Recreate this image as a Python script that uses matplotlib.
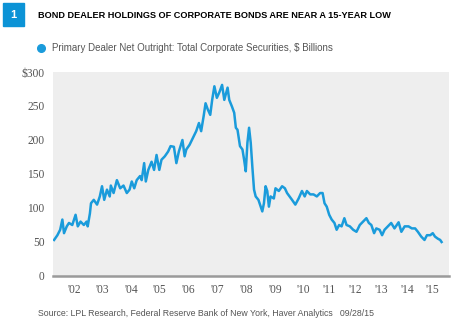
import matplotlib
matplotlib.use("Agg")
import matplotlib.pyplot as plt
from matplotlib.patches import Rectangle

# Data (decimal year, $ billions)
years = [
    2001.66, 2001.78, 2001.88, 2001.96, 2002.02, 2002.12, 2002.20, 2002.32, 2002.44, 2002.52,
    2002.62, 2002.74, 2002.84, 2002.88, 2002.96, 2003.00, 2003.10, 2003.22, 2003.32, 2003.40,
    2003.48, 2003.58, 2003.68, 2003.72, 2003.82, 2003.94, 2004.06, 2004.18, 2004.30, 2004.40,
    2004.48, 2004.57, 2004.66, 2004.78, 2004.84, 2004.93, 2004.99, 2005.08, 2005.20, 2005.29,
    2005.38, 2005.48, 2005.56, 2005.68, 2005.80, 2005.89, 2006.01, 2006.10, 2006.19, 2006.32,
    2006.40, 2006.46, 2006.58, 2006.70, 2006.82, 2006.92, 2007.00, 2007.09, 2007.16, 2007.24,
    2007.33, 2007.40, 2007.48, 2007.57, 2007.66, 2007.76, 2007.84, 2007.96, 2008.02, 2008.12,
    2008.20, 2008.26, 2008.32, 2008.41, 2008.50, 2008.56, 2008.62, 2008.68, 2008.74, 2008.80,
    2008.86, 2008.92, 2008.98, 2009.08, 2009.16, 2009.22, 2009.28, 2009.34, 2009.40, 2009.46,
    2009.52, 2009.64, 2009.70, 2009.82, 2009.94, 2010.04, 2010.12, 2010.21, 2010.30, 2010.42,
    2010.54, 2010.66, 2010.76, 2010.84, 2010.96, 2011.08, 2011.20, 2011.32, 2011.41, 2011.48,
    2011.56, 2011.65, 2011.74, 2011.84, 2011.92, 2012.01, 2012.10, 2012.20, 2012.28, 2012.40,
    2012.52, 2012.64, 2012.76, 2012.88, 2013.00, 2013.09, 2013.18, 2013.28, 2013.36, 2013.48,
    2013.57, 2013.66, 2013.78, 2013.90, 2014.02, 2014.17, 2014.27, 2014.39, 2014.53, 2014.65,
    2014.77, 2014.87, 2014.99, 2015.11, 2015.20, 2015.32, 2015.41, 2015.49, 2015.59, 2015.68,
    2015.73,
]
holdings = [
    53, 60, 68, 83, 63, 73, 78, 75, 90, 73,
    80, 75, 80, 73, 92, 107, 112, 105, 117, 132,
    112, 127, 117, 133, 122, 141, 129, 133, 122, 127,
    139, 129, 141, 147, 141, 166, 139, 156, 168, 156,
    178, 156, 171, 176, 183, 191, 190, 166, 183, 200,
    176, 186, 193, 203, 213, 225, 213, 235, 254, 245,
    237, 259, 279, 262, 270, 281, 259, 277, 259, 249,
    240, 218, 215, 191, 186, 171, 154, 196, 218, 196,
    160, 127, 117, 112, 102, 95, 107, 132, 125, 102,
    117, 114, 129, 125, 132, 129, 122, 117, 112, 105,
    114, 125, 117, 125, 120, 120, 117, 122, 122, 107,
    102, 90, 83, 78, 68, 75, 73, 85, 75, 73,
    68, 65, 75, 80, 85, 78, 75, 63, 70, 68,
    60, 68, 73, 78, 70, 79, 65, 73, 73, 70,
    70, 65, 58, 53, 60, 60, 63, 58, 55, 53,
    50,
]

tick_pos = [2002.40, 2003.42, 2004.46, 2005.50, 2006.55, 2007.60, 2008.65,
            2009.68, 2010.72, 2011.66, 2012.58, 2013.54, 2014.48, 2015.41]
tick_labels = ["'02", "'03", "'04", "'05", "'06", "'07", "'08",
               "'09", "'10", "'11", "'12", "'13", "'14", "'15"]
y_ticks = [0, 50, 100, 150, 200, 250, 300]
y_labels = ["0", "50", "100", "150", "200", "250", "$300"]

blue = "#1A9BDB"
grey_txt = "#555555"
sans = ["Liberation Sans", "DejaVu Sans"]

fig = plt.figure(figsize=(4.65, 3.3), dpi=100)
ax = fig.add_axes([53 / 465, 1 - 276 / 330, 396 / 465, 204 / 330])
ax.set_facecolor("#EEEEEE")

ax.plot(years, holdings, color=blue, linewidth=1.8, solid_joinstyle="round")

ax.set_xlim(2001.62, 2016.0)
ax.set_ylim(0, 300)
ax.set_xticks(tick_pos)
ax.set_xticklabels(tick_labels)
ax.set_yticks(y_ticks)
ax.set_yticklabels(y_labels)
ax.tick_params(length=0, labelsize=8.3, colors=grey_txt, pad=6)
for lab in ax.get_xticklabels() + ax.get_yticklabels():
    lab.set_family("Liberation Serif")

for s in ["top", "right", "left"]:
    ax.spines[s].set_visible(False)
ax.spines["bottom"].set_color("#9A9A9A")
ax.spines["bottom"].set_linewidth(1.8)

# Header number box and title
fig.patches.append(Rectangle((3 / 465, 1 - 26 / 330), 21 / 465, 23 / 330,
                             transform=fig.transFigure, color="#0C93D6"))
fig.text(13.5 / 465, 1 - 15 / 330, "1", color="white", fontsize=8, fontweight="bold",
         ha="center", va="center", family=sans)
fig.text(38 / 465, 1 - 16 / 330, "BOND DEALER HOLDINGS OF CORPORATE BONDS ARE NEAR A 15-YEAR LOW",
         fontsize=6.6, fontweight="bold", color="black", ha="left", va="center", family=sans)

# Legend
fig.lines.append(plt.Line2D([41 / 465], [1 - 48 / 330], marker="o", markersize=5.5,
                            color=blue, transform=fig.transFigure))
fig.text(52 / 465, 1 - 48 / 330, r"Primary Dealer Net Outright: Total Corporate Securities, \$ Billions",
         fontsize=7.0, color=grey_txt, ha="left", va="center", family=sans)

# Source
fig.text(38 / 465, 1 - 313 / 330,
         "Source: LPL Research, Federal Reserve Bank of New York, Haver Analytics   09/28/15",
         fontsize=6.35, color=grey_txt, ha="left", va="center", family=sans)

fig.savefig("out.png", dpi=100)
